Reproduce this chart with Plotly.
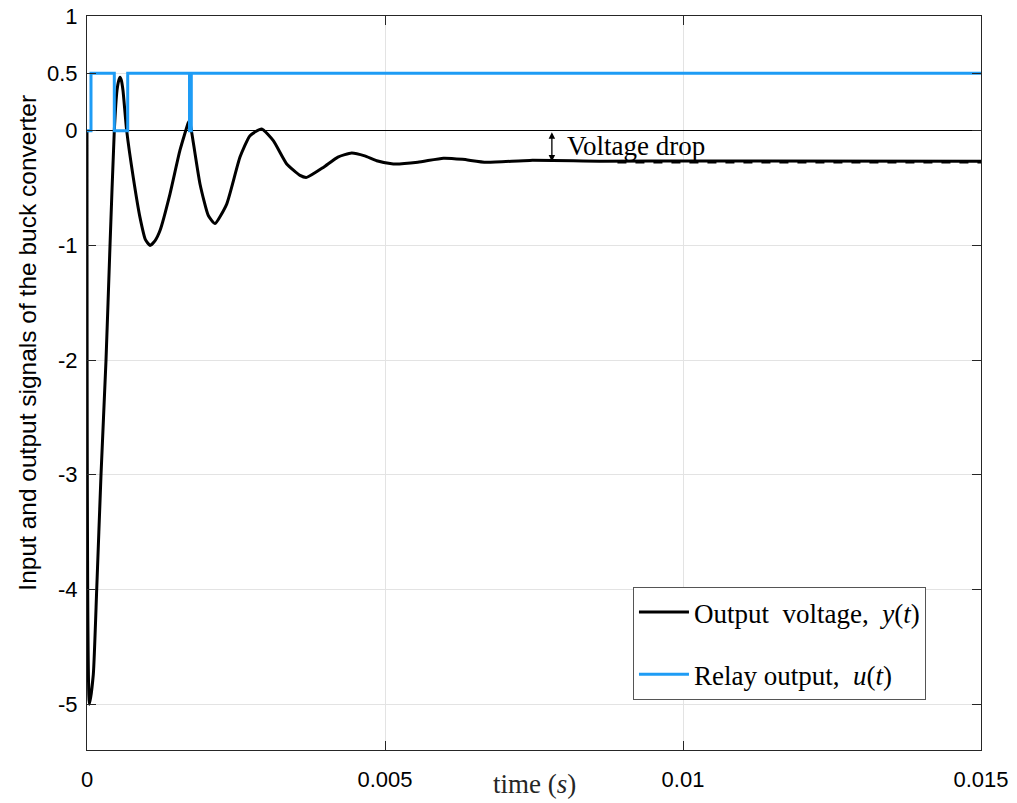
import plotly.graph_objects as go

# ---- data ----
t_y = [0.0, 0.00004, 0.000106, 0.000163, 0.000235, 0.000319, 0.000386, 0.000458, 0.000503,
       0.000534, 0.000554, 0.000576, 0.000604, 0.000666, 0.000777, 0.000889, 0.00098, 0.001057,
       0.00114, 0.001225, 0.001393, 0.00156, 0.0017, 0.00172, 0.001757, 0.001896, 0.002035,
       0.002148, 0.002344, 0.002567, 0.002735, 0.002931, 0.003126, 0.003351, 0.003574,
       0.003686, 0.003965, 0.00421, 0.00444, 0.00466, 0.00486, 0.00514, 0.00555, 0.00598,
       0.0063, 0.0067, 0.00743, 0.0086, 0.01029, 0.015]
y_out = [0.0, -5.0, -4.74, -4.0, -3.0, -2.0, -1.0, 0.0, 0.35,
         0.44, 0.465, 0.44, 0.35, 0.0, -0.41, -0.756, -0.95, -1.0,
         -0.96, -0.87, -0.55, -0.17, 0.07, 0.087, -0.015, -0.465, -0.74,
         -0.81, -0.64, -0.23, -0.044, 0.015, -0.087, -0.29, -0.39,
         -0.407, -0.32, -0.23, -0.195, -0.22, -0.262, -0.29, -0.275, -0.24,
         -0.25, -0.276, -0.259, -0.266, -0.264, -0.266]

t_u = [0.0, 0.000067, 0.000458, 0.000683, 0.00172, 0.00175, 0.015]
u_relay = [0.0, 0.5, 0.0, 0.5, 0.0, 0.5, 0.5]

t_ss = [0.0089, 0.015]
y_ss = [-0.279, -0.279]

drop_t = 0.0078
drop_top = 0.0
drop_bottom = -0.268

x_ticks = [0, 0.005, 0.01, 0.015]
x_labels = ["0", "0.005", "0.01", "0.015"]
y_ticks = [-5, -4, -3, -2, -1, 0, 0.5, 1]
y_labels = ["-5", "-4", "-3", "-2", "-1", "0", "0.5", "1"]

SERIF = "Liberation Serif"
SANS = "Liberation Sans, Arial"

fig = go.Figure()
fig.add_trace(go.Scatter(x=t_ss, y=y_ss, mode="lines", showlegend=False,
                         line=dict(color="black", width=1.5, dash="dash")))
fig.add_trace(go.Scatter(x=t_y, y=y_out, mode="lines",
                         name="Output&nbsp; voltage,&nbsp; <i>y</i>(<i>t</i>)",
                         legendgroup="a", legendrank=1,
                         line=dict(color="black", width=3, shape="spline", smoothing=0.5)))
fig.add_trace(go.Scatter(x=t_u, y=u_relay, mode="lines",
                         name="Relay output,&nbsp; <i>u</i>(<i>t</i>)",
                         legendgroup="b", legendrank=2,
                         line=dict(color="#1E9CF5", width=3, shape="hv")))

fig.add_annotation(x=drop_t, y=drop_bottom, ax=drop_t, ay=drop_top, xref="x", yref="y",
                   axref="x", ayref="y", text="", showarrow=True, arrowhead=2,
                   arrowside="end+start", arrowsize=1, arrowwidth=1.3, arrowcolor="black")
fig.add_annotation(x=0.00802, y=-0.13, xref="x", yref="y", text="Voltage drop",
                   showarrow=False, xanchor="left", yanchor="middle",
                   font=dict(family=SERIF, size=27, color="black"))
fig.add_annotation(x=-0.066, y=0.555, xref="paper", yref="paper", textangle=-90,
                   text="Input and output signals of the buck converter", showarrow=False,
                   xanchor="center", yanchor="middle", font=dict(family=SANS, size=24.5, color="black"))
fig.add_annotation(x=0.5, y=-0.047, xref="paper", yref="paper", text="time (<i>s</i>)",
                   showarrow=False, xanchor="center", yanchor="middle",
                   font=dict(family=SERIF, size=27, color="#262626"))

axis_common = dict(showline=True, linecolor="#262626", linewidth=1, mirror="ticks",
                   ticks="inside", ticklen=9, tickcolor="#262626", showgrid=True,
                   gridcolor="#e3e3e3", gridwidth=1, ticklabeloverflow="allow",
                   automargin=False,
                   tickfont=dict(family=SANS, size=22, color="black"))
fig.update_xaxes(range=[0, 0.015], tickvals=x_ticks, ticktext=x_labels,
                 ticklabelstandoff=10, zeroline=False, **axis_common)
fig.update_yaxes(range=[-5.4, 1], tickvals=y_ticks, ticktext=y_labels,
                 ticklabelstandoff=4, zeroline=True, zerolinecolor="black", zerolinewidth=1.3,
                 **axis_common)

fig.update_layout(
    width=1017, height=803,
    margin=dict(l=87, r=36, t=16, b=53),
    plot_bgcolor="white", paper_bgcolor="white",
    legend=dict(x=0.6107, y=0.222, xanchor="left", yanchor="top",
                bordercolor="#555555", borderwidth=1, bgcolor="white",
                traceorder="grouped", tracegroupgap=24, itemwidth=50,
                font=dict(family=SERIF, size=27, color="black")),
)

fig.write_html("out.html")
